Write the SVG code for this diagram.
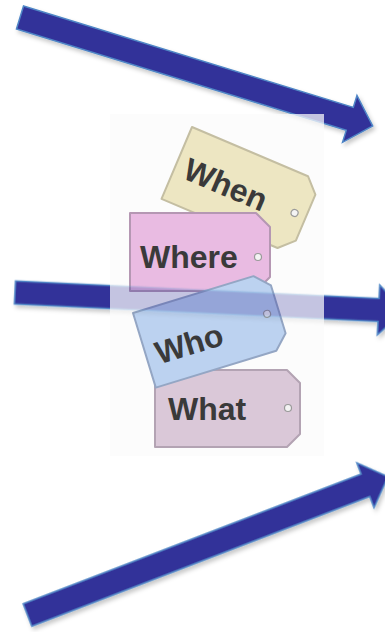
<svg xmlns="http://www.w3.org/2000/svg" xmlns:xlink="http://www.w3.org/1999/xlink" width="385" height="632" viewBox="0 0 385 632">
  <defs>
    <style>
      .arrow { fill: #333399; stroke: #4f86c6; stroke-width: 1.5; stroke-linejoin: miter; }
      .tag { stroke-width: 2; stroke-linejoin: round; }
      .lbl { font-family: "Liberation Sans", Arial, sans-serif; font-weight: bold; font-size: 32px; fill: #3a3a3a; }
      .hole { fill: #f4f4f4; stroke: #9a9a9a; stroke-width: 1.2; }
    </style>
    <filter id="shadow" x="-10%" y="-30%" width="120%" height="160%">
      <feDropShadow dx="2" dy="3" stdDeviation="2" flood-color="#000" flood-opacity="0.22"/>
    </filter>
    <clipPath id="imgClip">
      <rect x="110" y="114" width="214" height="342"/>
    </clipPath>
    <path id="tagShape" d="M0,0 H126 L140,14 V64 L126,78 H0 Z"/>
  </defs>

  <rect width="385" height="632" fill="#ffffff"/>

  <g id="connectors" filter="url(#shadow)">
    <path id="arrow-top" class="arrow" transform="translate(20,17.5) rotate(17.09)" d="M0,-12 L345,-12 L345,-24.5 L369,0 L345,24.5 L345,12 L0,12 Z"/>
    <path id="arrow-mid" class="arrow" transform="translate(15,292.5) rotate(2.75)" d="M0,-11.5 L364,-11.5 L364,-25 L389,0 L364,25 L364,11.5 L0,11.5 Z"/>
    <path id="arrow-bot" class="arrow" transform="translate(27.5,615) rotate(-21)" d="M0,-12 L362,-12 L362,-24 L386,0 L362,24 L362,12 L0,12 Z"/>
  </g>

  <g id="tags-picture">
    <rect x="110" y="114" width="214" height="342" fill="#fcfcfc"/>

    <g id="tag-when" transform="translate(192,127) rotate(23)">
      <use xlink:href="#tagShape" class="tag" fill="#ede6c2" stroke="#c4bea2"/>
      <circle class="hole" cx="128" cy="39" r="3.5"/>
      <text class="lbl" x="10" y="51">When</text>
    </g>

    <g id="tag-where" transform="translate(130,213)">
      <use xlink:href="#tagShape" class="tag" fill="#e9bbe2" stroke="#b597b3"/>
      <circle class="hole" cx="128" cy="44" r="3.5"/>
      <text class="lbl" x="10" y="55">Where</text>
    </g>

    <g id="tag-what" transform="translate(155,370)">
      <path class="tag" d="M0,0 H132 L145,13 V64 L132,77 H0 Z" fill="#dac8d8" stroke="#b3a3b3"/>
      <circle class="hole" cx="133" cy="38" r="3.5"/>
      <text class="lbl" x="13" y="50">What</text>
    </g>

    <g id="tag-who" transform="translate(133,313) rotate(-17)">
      <use xlink:href="#tagShape" class="tag" fill="#bcd2f0" stroke="#94a6c4"/>
      <circle class="hole" cx="128" cy="40" r="3.5"/>
      <text class="lbl" x="10" y="57">Who</text>
    </g>
  </g>

  <use xlink:href="#connectors" clip-path="url(#imgClip)" opacity="0.28"/>
</svg>
